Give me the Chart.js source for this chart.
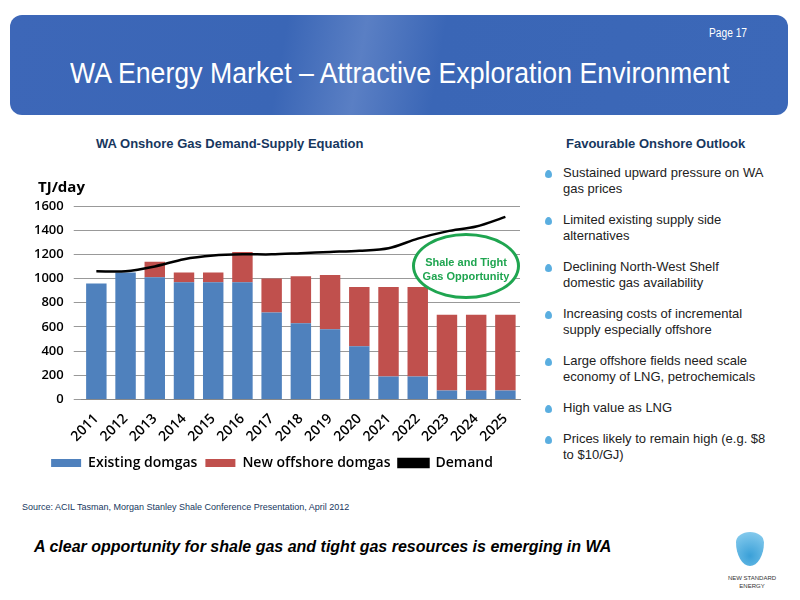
<!DOCTYPE html>
<html><head><meta charset="utf-8">
<script src="https://cdn.jsdelivr.net/npm/chart.js@4"></script>
<style>
body{margin:0;width:800px;height:600px;position:relative;font-family:"Liberation Sans",Arial,sans-serif;background:#fff;overflow:hidden}
#hdr{position:absolute;left:10px;top:15px;width:778px;height:100px;border-radius:12px;background:linear-gradient(100deg,#3d67b8 0%,#3a66b6 35%,#5a7fc4 45%,#3a66b6 55%,#3c68b8 100%)}
#page{position:absolute;left:709px;top:26px;color:#fff;font-size:12px;transform:scaleX(0.85);transform-origin:left}
#title{position:absolute;left:70px;top:56px;color:#fff;font-size:30px;white-space:nowrap;transform:scaleX(0.89);transform-origin:left}
.sub{position:absolute;top:136px;color:#17375e;font-size:13px;font-weight:bold}
#wrap{position:absolute;left:24px;top:166px;width:506px;height:314px}
#ytitle{position:absolute;left:38px;top:176px;font:bold 15px "Open Sans",sans-serif;color:#000}
#oval{position:absolute;left:412px;top:233px;width:108px;height:66px;border:3px solid #1fa550;border-radius:50%;color:#1fa550;font-size:11px;font-weight:bold;text-align:center;box-sizing:border-box;padding-top:19px;line-height:14px;background:#fff}
ul{position:absolute;left:545px;top:165px;margin:0;padding:0;list-style:none;width:225px}
li{font-size:13px;color:#222;margin-bottom:15px;padding-left:18px;position:relative;line-height:16px}
li:before{content:"";position:absolute;left:0;top:5px;width:7px;height:8px;background:#5aaee0;border-radius:50% 50% 50% 50%/60% 60% 40% 40%}
#src{position:absolute;left:22px;top:502px;font-size:9px;color:#17375e}
#foot{position:absolute;left:34px;top:538px;font-size:16px;font-weight:bold;font-style:italic}
#logo{position:absolute;left:736px;top:532px;width:28px;height:34px;background:radial-gradient(circle at 50% 70%,#3aa0d8,#8fd0f0);border-radius:50% 50% 50% 50%/30% 30% 70% 70%}
#lt{position:absolute;left:712px;top:574px;font-size:6px;text-align:center;width:80px;color:#333;line-height:8px}
</style></head><body>
<div id="hdr"></div>
<div id="page">Page 17</div>
<div id="title">WA Energy Market – Attractive Exploration Environment</div>
<div class="sub" style="left:96px">WA Onshore Gas Demand-Supply Equation</div>
<div class="sub" style="left:566px">Favourable Onshore Outlook</div>
<div id="wrap"><canvas id="c"></canvas></div>
<div id="ytitle">TJ/day</div>
<div id="oval">Shale and Tight<br>Gas Opportunity</div>
<ul>
<li>Sustained upward pressure on WA gas prices</li>
<li>Limited existing supply side alternatives</li>
<li>Declining North-West Shelf domestic gas availability</li>
<li>Increasing costs of incremental supply especially offshore</li>
<li>Large offshore fields need scale economy of LNG, petrochemicals</li>
<li>High value as LNG</li>
<li>Prices likely to remain high (e.g. $8 to $10/GJ)</li>
</ul>
<div id="src">Source: ACIL Tasman, Morgan Stanley Shale Conference Presentation, April 2012</div>
<div id="foot">A clear opportunity for shale gas and tight gas resources is emerging in WA</div>
<div id="logo"></div>
<div id="lt">NEW STANDARD<br>ENERGY</div>
<script>
const years = ['2011','2012','2013','2014','2015','2016','2017','2018','2019','2020','2021','2022','2023','2024','2025'];
const existingDomgas = [960,1050,1010,970,970,970,720,630,580,440,190,190,75,75,75];
const newOffshoreDomgas = [0,0,130,80,80,250,280,390,450,490,740,740,625,625,625];
const demand = [1060,1060,1100,1160,1190,1200,1200,1210,1220,1230,1250,1330,1390,1430,1510];
const yTicks = [0,200,400,600,800,1000,1200,1400,1600];

const font = {family:'"Open Sans",sans-serif', size:13, weight:'600'};
const xFont = {family:'"Open Sans",sans-serif', size:14, weight:'600'};
new Chart(document.getElementById('c'), {
  type:'bar',
  data:{labels:years, datasets:[
    {label:'Existing domgas', data:existingDomgas, backgroundColor:'#4f81bd', categoryPercentage:1, barPercentage:0.7, order:1},
    {label:'New offshore domgas', data:newOffshoreDomgas, backgroundColor:'#c0504d', categoryPercentage:1, barPercentage:0.7, order:2},
    {type:'line', label:'Demand', data:demand, borderColor:'#000', backgroundColor:'#000', borderWidth:2.5, pointRadius:0, tension:0.3, order:0}
  ]},
  options:{
    responsive:true, maintainAspectRatio:false, animation:false,
    layout:{padding:{top:40,right:10}},
    plugins:{legend:{position:'bottom', labels:{font:{family:'"Open Sans",sans-serif', size:14, weight:'600'}, color:'#000', boxWidth:30, boxHeight:8, padding:8, sort:(a,b)=>a.datasetIndex-b.datasetIndex}},
      tooltip:{enabled:false}},
    scales:{
      x:{stacked:true, grid:{display:false}, border:{color:'#888'}, ticks:{font:xFont, color:'#000', autoSkip:false, maxRotation:45, minRotation:45}},
      y:{stacked:true, min:0, max:1600, afterBuildTicks(ax){ax.ticks=yTicks.map(v=>({value:v}));}, grid:{color:'#999'}, border:{display:false},
         ticks:{font:font, color:'#000', padding:10, callback:v=>String(v)}}
    }
  }
});
</script>
</body></html>
